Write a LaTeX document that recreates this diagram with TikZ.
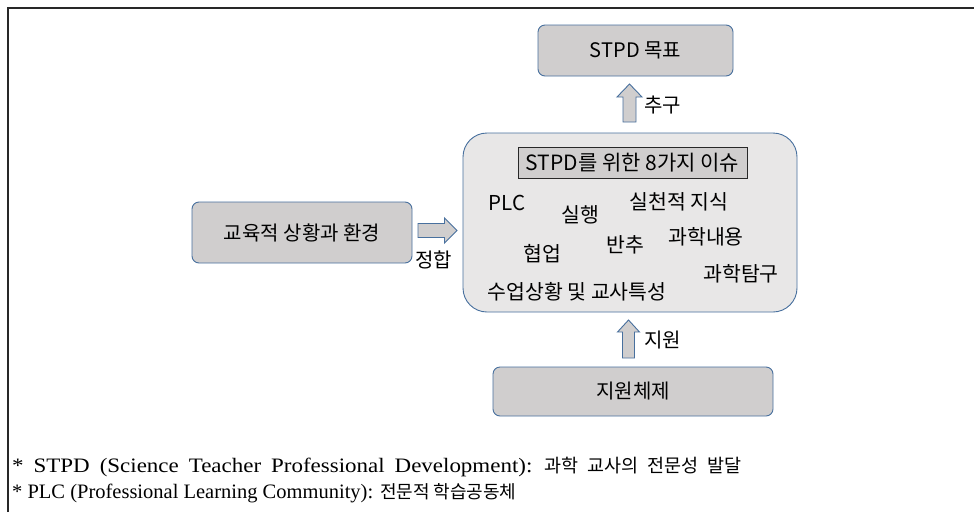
\documentclass[tikz,border=0pt]{standalone}
\usepackage{fontspec}
\setmainfont{Liberation Serif}
\newfontfamily\kr{Noto Sans CJK KR}
\newfontfamily\wideserif[FakeStretch=1.12]{Liberation Serif}
\definecolor{bordc}{RGB}{72,112,158}
\definecolor{boxc}{RGB}{208,206,206}
\definecolor{bigc}{RGB}{232,231,231}
\definecolor{framec}{RGB}{40,40,40}
\begin{document}
\begin{tikzpicture}[x=1pt,y=-1pt,
  lbl/.style={font=\kr\fontsize{20}{23}\selectfont, inner sep=0pt},
  word/.style={font=\kr\fontsize{20.5}{24}\selectfont, inner sep=0pt},
  boxnode/.style={draw=bordc, fill=boxc, line width=0.9pt, rounded corners=7pt, lbl},
  blockarrow/.style={draw=bordc, fill=boxc, line width=0.9pt, line join=miter},
  note/.style={font=\fontsize{20.5}{24}\selectfont, inner sep=0pt, anchor=west}]
\useasboundingbox (0,0) rectangle (974,512);
\fill[white] (0,0) rectangle (974,512);
\draw[framec, line width=1.1pt] (8,512) -- (8,8) -- (974,8);

% boxes
\node[boxnode, minimum width=195pt, minimum height=51pt] (goal) at (635.5,50.5) {STPD 목표};
\node[draw=bordc, fill=bigc, line width=0.9pt, rounded corners=24pt, minimum width=334pt, minimum height=179pt, inner sep=0pt] (issues) at (630,222.5) {};
\node[draw=framec, fill=boxc, line width=0.8pt, minimum width=229pt, minimum height=31pt, inner sep=0pt, font=\kr\fontsize{21}{24}\selectfont] (title) at (632.5,163) {STPD를 위한 8가지 이슈};
\node[boxnode, minimum width=220pt, minimum height=61pt] (env) at (302,232.5) {교육적 상황과 환경};
\node[boxnode, minimum width=280pt, minimum height=49pt] (support) at (633,391.5) {지원체제};

% issue words
\node[word] (plc) at (507,203) {PLC};
\node[word] (prac) at (580,215) {실행};
\node[word] (know) at (679,202) {실천적 지식};
\node[word] (cont) at (706,237) {과학내용};
\node[word] (refl) at (625,245) {반추};
\node[word] (coll) at (542,254) {협업};
\node[word] (inq) at (741,274) {과학탐구};
\node[word] (ctx) at (577,292) {수업상황 및 교사특성};

% block arrows
\coordinate (a1) at (629.5,84);
\draw[blockarrow] ([xshift=-6.5pt,yshift=-38pt]a1) -- ([xshift=-6.5pt,yshift=-13pt]a1) -- ([xshift=-12.5pt,yshift=-13pt]a1) -- (a1)
  -- ([xshift=12.5pt,yshift=-13pt]a1) -- ([xshift=6.5pt,yshift=-13pt]a1) -- ([xshift=6.5pt,yshift=-38pt]a1) -- cycle;
\node[lbl, anchor=west] (l1) at (644,105) {추구};

\coordinate (a2) at (457,230.5);
\draw[blockarrow] ([xshift=-39pt,yshift=7pt]a2) -- ([xshift=-12.5pt,yshift=7pt]a2) -- ([xshift=-12.5pt,yshift=12.5pt]a2) -- (a2)
  -- ([xshift=-12.5pt,yshift=-12.5pt]a2) -- ([xshift=-12.5pt,yshift=-7pt]a2) -- ([xshift=-39pt,yshift=-7pt]a2) -- cycle;
\node[lbl, anchor=west] (l2) at (415,260) {정합};

\coordinate (a3) at (628.5,320);
\draw[blockarrow] ([xshift=-6pt,yshift=-38pt]a3) -- ([xshift=-6pt,yshift=-12pt]a3) -- ([xshift=-11pt,yshift=-12pt]a3) -- (a3)
  -- ([xshift=11pt,yshift=-12pt]a3) -- ([xshift=6pt,yshift=-12pt]a3) -- ([xshift=6pt,yshift=-38pt]a3) -- cycle;
\node[lbl, anchor=west] (l3) at (644,340) {지원};

% footnotes
\node[note] (n1) at (12,467) {\wideserif\fontsize{20.5}{24}\selectfont\spaceskip=10pt * STPD (Science Teacher Professional Development): {\kr\fontsize{18.5}{21}\selectfont\spaceskip=9pt 과학 교사의 전문성 발달}};
\node[note] (n2) at (12,493) {* PLC (Professional Learning Community): {\kr\fontsize{18}{21}\selectfont 전문적 학습공동체}};
\end{tikzpicture}
\end{document}
